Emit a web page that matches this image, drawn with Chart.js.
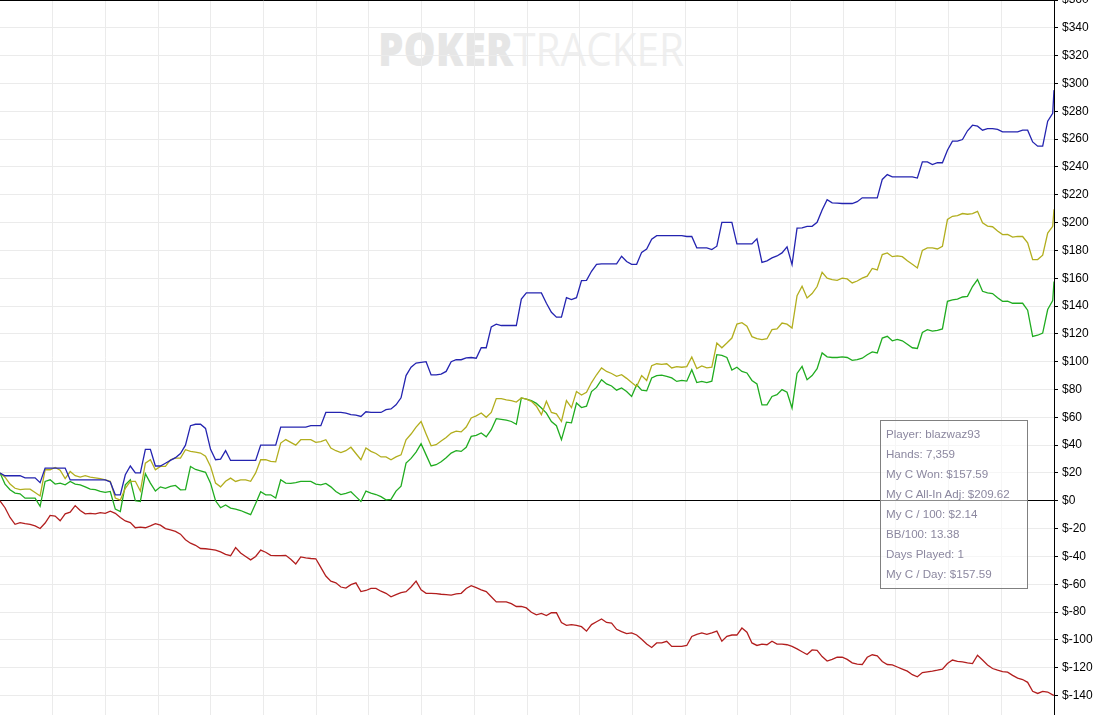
<!DOCTYPE html>
<html>
<head>
<meta charset="utf-8">
<title>PokerTracker graph</title>
<script src="https://cdn.jsdelivr.net/npm/chart.js@4.4.0/dist/chart.umd.min.js"></script>
<style>
body { margin: 0; background: #fff; overflow: hidden; }
#wrap { position: relative; width: 1097px; height: 715px; }
#graph { position: absolute; left: 0; top: 0; z-index: 1; }
#mark { position: absolute; left: 378px; top: 25px; font-family: "Open Sans", sans-serif; font-size: 46px; line-height: 46px; white-space: nowrap; z-index: 0; transform-origin: left top; transform: scaleX(0.88); }
#mark b { color: #e6e6e6; font-weight: 800; }
#mark span { color: #efefef; font-weight: 400; }
#info { position: absolute; left: 880px; top: 420px; width: 148px; height: 169px; box-sizing: border-box; border: 1px solid #808080; background: rgba(255,255,255,0.55); padding: 3px 0 0 5px; font-family: "Liberation Sans", Arial, sans-serif; font-size: 11.6px; line-height: 20px; color: #8b879f; z-index: 2; white-space: nowrap; }
</style>
</head>
<body>
<div id="wrap">
  <div id="mark"><b>POKER</b><span>TRACKER</span></div>
  <canvas id="graph" width="1097" height="715"></canvas>
  <div id="info"></div>
</div>
<script>
// one sample every 35 hands, last one at hand 7,359
var lastHand = 7359;
var handStep = 35;

// showdown winnings
var blue = [20,18,18,18,18,16.5,16.5,16.5,13,23.5,
  23.5,23.5,23.5,23.5,15,15,15,15,15,15,
  15,15,13.5,4.3,4.3,18.7,25,20,20,37,
  37,25,25,27,29,31,34,40,54,55,
  55,52,37,29.5,30,36,29,29,29,29,
  29,29,40,40,40,40,53,53,53,53,
  53,53,54,54,54,63.5,63.5,63.5,63.5,63,
  62,61.5,60.6,64,63.5,63.5,63.5,65.5,66,69,
  74,90,96,99,99.5,100,90.5,90.5,91,93,
  100,101.4,101.4,102.7,103,102.5,110,110,125,127,
  126,126,126,126,145,149.4,149.4,149.4,149.4,142,
  135.5,132,132,146,144.6,146,158.3,158.5,165,170,
  170.3,170.3,170.3,170.3,175.8,172,170,170,178.6,181,
  188,190.6,190.6,190.6,190.6,190.6,190.6,190,190,181.8,
  181.8,181.8,180.6,183,200.2,200.2,200.2,184.7,184.7,184.7,
  184.7,188.3,171.4,172.5,174.6,176,178.2,182.5,169.8,196,
  196.2,197.3,197.3,200.2,209,216.5,214.2,214,213.7,213.7,
  213.7,215,217.8,217.8,217.8,217.8,231,234.5,232.9,232.9,
  232.9,232.9,232.9,232,243.6,243.6,241.7,243,243,252,
  258.5,258.5,259.7,266,270,269.3,266.4,267.6,267.6,267,
  265.2,265.2,265.2,265.2,266.4,266.4,258,254.9,254.9,272.9,
  278.5,295.2];

// all-in adjusted
var olive = [20,17,12,9,8,8.4,8.4,6,3.5,22.3,
  22.3,24,22,16,21,18,17,18,17,16.5,
  16,15,14,2,0.5,9,14,14,7,27,
  29.5,22.3,24.7,24.7,29.5,30.7,30.7,36.7,35.5,35,
  34.3,32,24.7,12.7,10,14,16.3,13.9,15,15,
  14,20,29.5,29.5,28.3,28,41.5,44,42,40,
  43.9,43.9,43.9,42,42.5,43.9,37.9,36,34.7,36,
  38.5,34,29.5,38,35.5,34,31.5,31.5,29.5,31.5,
  33,43.9,48,53,57,48,39.5,40.3,43,45.5,
  48.7,50,49.5,53,59.5,61,63.1,60,63.5,73.5,
  73.5,72.5,72,71,73.9,73,71.5,68,61.9,71.5,
  63.5,62.5,57,72,67,78.6,76,78,85,90.6,
  95.5,93,91.5,89.5,90.6,88,85,82.2,90,86.5,
  97.1,98.5,98,98.5,95.5,96.5,96,96.5,103.4,95,
  97,95.5,96,113.4,110,113.4,117,127,128,125.5,
  118,116.5,115.8,116.5,123,123.5,127.8,127,124.2,147.5,
  154.2,145.8,149,154,164.2,160,159,158.5,160,159.5,
  156.6,158,160,161.5,167,166,177,178.2,175.5,176,
  175.5,172.5,170,167.4,180,181.8,181.8,181,182.9,202.2,
  204.5,205,206.5,206,206.5,208.1,199.8,197.5,197,194,
  191.4,191.5,189.5,190,190,185.5,173.4,173.4,176.5,192.5,
  197.3,209.6];

// net won
var green = [20,12,7.9,5.5,5,1.9,1.9,1.9,-4,13.9,
  15.1,12,12.7,11.5,13.9,12,11.5,10,8.4,8,
  6.7,6,6.7,-6,-7.7,11.5,15.1,0,-0.5,19.5,
  12.7,7,10,9,10.3,11,7.9,8,24.7,22.5,
  21.5,20.5,12.7,0,-5,-3,-5.3,-6,-7,-8.5,
  -10,-2,6.5,4.3,4.3,2,15.1,12.7,12.5,13,
  13.9,13.9,13.9,12,11.5,12.5,10,6.7,4.5,5.3,
  6.5,3,-0.5,7,5.5,4.5,3,0.7,1,7,
  10.5,27.1,30.5,35,41,33,25,25.9,28,31,
  34.3,36,35.5,38.5,46.3,47,48.7,46,51.1,59,
  58.5,58,57,55,73.9,73,72,70,66.7,63,
  57,54,43.9,56.5,56,70.3,67,68,78.5,81.5,
  87,84,82.5,79.5,81.1,78.6,75,83.4,79.5,79,
  88.3,90,90.3,89.5,88.3,85.8,86.5,86,94.2,85,
  85.8,85,86,105,104.5,103,94,96,93,91.9,
  86.5,84,69,69,75,76.3,79.9,78,66.7,91.5,
  96.6,87,90,95,106.3,103.5,103,103,103.5,103,
  101,101.5,102.5,105,107,106.3,117,118.2,115,116,
  115,112.5,110,109.5,121,123,122,122.5,123.5,143.4,
  144.5,145,146.5,147,154,159,150.6,149.5,149,146,
  143.4,143.5,142,142,142,137,118.2,119,120.6,137.5,
  144,157.6];

// non-showdown winnings
var red = [0,-5,-12,-16.9,-15.7,-16.5,-16.9,-18.1,-19.9,-16,
  -10.5,-11,-14.4,-9.4,-8.2,-3.5,-7,-9.4,-9,-9.4,
  -8.5,-9,-7.5,-9,-12,-14.5,-15.7,-19.4,-19,-19.4,
  -18,-16.4,-17.5,-20,-21,-22,-24,-28,-30.5,-32,
  -34.3,-34.5,-35,-35.5,-36.7,-38.5,-39.5,-33.7,-37.5,-40,
  -42.5,-40,-35.5,-37,-39.2,-39.5,-39.5,-39.2,-42,-45.4,
  -40.4,-41,-41.5,-41.7,-47.9,-54.1,-57.8,-59,-62,-62.8,
  -60.3,-59,-65.3,-64.5,-63,-63,-65,-66.5,-69,-67.5,
  -66,-65.3,-62,-57.8,-64,-66.5,-66.5,-66.8,-67.2,-67.5,
  -67.8,-67,-66.5,-63,-61,-62.5,-64,-65.3,-69,-72.7,
  -72.7,-72.7,-74,-76,-76,-77,-80.1,-82,-81,-82.5,
  -80.5,-80.5,-87.6,-89.5,-89,-89.5,-90.5,-93.7,-89,-87,
  -85,-87.5,-88,-92.4,-94,-95.5,-95,-96.5,-99.5,-103,
  -105.5,-102.2,-102.2,-101,-104.7,-104.7,-104.7,-104,-97.5,-96,
  -95,-96,-94.9,-93.7,-101,-97.5,-96.5,-96.5,-91.5,-94.5,
  -102.2,-104,-103,-103.5,-101,-103,-103,-103.5,-104.7,-106.5,
  -108.5,-110.5,-107.2,-107.5,-112,-115.2,-114,-112.5,-112.5,-114,
  -116.5,-117.5,-117.7,-112.5,-110.7,-111.5,-115.5,-117.7,-118,-119.5,
  -121,-122.5,-125,-126.5,-123.5,-123,-122.5,-121.8,-121,-117,
  -114.5,-115.5,-115.8,-116.5,-117,-111,-114.5,-118,-120.6,-121.8,
  -122.8,-123.2,-125.5,-127.5,-128.5,-130.5,-137,-138.5,-137,-137.5,
  -139.5,-140];

var yMin = -154;
var yMax = 360;
var yStep = 20;

var infoLines = [
  "Player: blazwaz93",
  "Hands: 7,359",
  "My C Won: $157.59",
  "My C All-In Adj: $209.62",
  "My C / 100: $2.14",
  "BB/100: 13.38",
  "Days Played: 1",
  "My C / Day: $157.59"
];

var hands = blue.map(function (v, i) { return Math.min(i * handStep, lastHand); });

function points(values) {
  return values.map(function (v, i) { return { x: hands[i], y: v }; });
}

function lineSet(label, values, color) {
  return {
    label: label,
    data: points(values),
    borderColor: color,
    borderWidth: 1.3,
    pointRadius: 0,
    tension: 0,
    fill: false
  };
}

document.getElementById("info").innerHTML = infoLines.map(function (t) {
  return "<div>" + t + "</div>";
}).join("");

var ctx = document.getElementById("graph");
var graph = new Chart(ctx, {
  type: "line",
  data: {
    datasets: [
      lineSet("Showdown", blue, "#2424b0"),
      lineSet("All-In Adj", olive, "#b2ae1e"),
      lineSet("Won", green, "#20ac20"),
      lineSet("Non-Showdown", red, "#b21e1e")
    ]
  },
  options: {
    responsive: false,
    animation: false,
    layout: { padding: 0 },
    plugins: { legend: { display: false }, tooltip: { enabled: false } },
    scales: {
      x: {
        type: "linear",
        min: 0,
        max: lastHand,
        ticks: { display: false, stepSize: 370 },
        grid: {
          drawTicks: false,
          color: function (c) { return c.tick && c.tick.value === 0 ? "rgba(0,0,0,0)" : "#ebebeb"; }
        },
        border: { display: false },
        afterFit: function (s) { s.height = 0; s.paddingLeft = 0; s.paddingRight = 0; }
      },
      y: {
        position: "right",
        min: yMin,
        max: yMax,
        afterBuildTicks: function (s) {
          s.ticks = s.ticks.filter(function (t) { return t.value % yStep === 0; });
        },
        ticks: {
          stepSize: yStep,
          padding: 4,
          color: "#000",
          font: { family: "Liberation Sans", size: 12 },
          callback: function (v) { return "$" + v; }
        },
        grid: {
          tickLength: 4,
          tickColor: "#000",
          color: function (c) {
            if (c.tick && (c.tick.value === 0 || c.tick.value === yMax)) return "#000";
            return "#ebebeb";
          }
        },
        border: { display: true, color: "#000", width: 1 },
        afterFit: function (s) { s.width = 43; s.paddingTop = 0; s.paddingBottom = 0; }
      }
    }
  }
});
</script>
</body>
</html>
